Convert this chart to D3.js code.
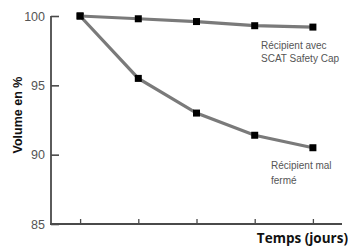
<!DOCTYPE html>
<html>
<head>
<meta charset="utf-8">
<script src="https://cdn.jsdelivr.net/npm/d3@7"></script>
<style>
  body { margin: 0; background: #fff; }
  text { font-family: "Liberation Sans", Arial, sans-serif; }
</style>
</head>
<body>
<div id="chart"></div>
<script>
// data
let days = [0, 1, 2, 3, 4];
let safetyCap = [100, 99.8, 99.6, 99.3, 99.2];
let malFerme = [100, 95.5, 93, 91.4, 90.5];
let yTicks = [85, 90, 95, 100];

let width = 348, height = 248;

let svg = d3.select("#chart")
    .append("svg")
    .attr("width", width)
    .attr("height", height);

let x = d3.scaleLinear().domain([-0.5, 4.5]).range([51, 342]);
let y = d3.scaleLinear().domain([85, 100]).range([224, 16]);

let axisColor = "#4a4a4a";

// y axis, ticks pointing inward
let yAxis = svg.append("g")
    .attr("transform", "translate(51,0)")
    .call(d3.axisRight(y).tickValues(yTicks).tickSize(8).tickFormat(d3.format("d")));
yAxis.select(".domain").remove();
yAxis.selectAll("line").attr("stroke", axisColor).attr("stroke-width", 1.6);
yAxis.selectAll("text")
    .attr("x", -6)
    .style("text-anchor", "end")
    .attr("fill", "#555")
    .style("font-size", "12.5px");

// x axis, small ticks pointing up
let xAxis = svg.append("g")
    .attr("transform", "translate(0,224)")
    .call(d3.axisTop(x).tickValues(days).tickSize(5).tickFormat(""));
xAxis.select(".domain").remove();
xAxis.selectAll("line").attr("stroke", axisColor).attr("stroke-width", 1.3);

svg.append("line")
    .attr("x1", 51).attr("x2", 51)
    .attr("y1", y(100)).attr("y2", 224)
    .attr("stroke", axisColor).attr("stroke-width", 1.8);
svg.append("line")
    .attr("x1", 50).attr("x2", 342)
    .attr("y1", 224).attr("y2", 224)
    .attr("stroke", axisColor).attr("stroke-width", 1.8);

let line = d3.line()
    .x(function(d, i) { return x(days[i]); })
    .y(function(d) { return y(d); });

[malFerme, safetyCap].forEach(function(series) {
    svg.append("path")
        .datum(series)
        .attr("d", line)
        .attr("fill", "none")
        .attr("stroke", "#7a7a7a")
        .attr("stroke-width", 3.2);

    svg.selectAll(null)
        .data(series)
        .enter().append("rect")
        .attr("x", function(d, i) { return x(days[i]) - 3.5; })
        .attr("y", function(d) { return y(d) - 3.5; })
        .attr("width", 7)
        .attr("height", 7)
        .attr("fill", "#000");
});

// annotations
let note = svg.append("g")
    .style("font-family", "'Open Sans', sans-serif")
    .style("font-size", "10px")
    .attr("fill", "#555");
note.append("text").attr("x", 261).attr("y", 49).text("Récipient avec");
note.append("text").attr("x", 261).attr("y", 62).text("SCAT Safety Cap");
note.append("text").attr("x", 271).attr("y", 169).text("Récipient mal");
note.append("text").attr("x", 271).attr("y", 184).text("fermé");

svg.append("text")
    .attr("transform", "translate(22,115) rotate(-90)")
    .style("text-anchor", "middle")
    .style("font-weight", "bold")
    .style("font-size", "12.5px")
    .attr("fill", "#111")
    .text("Volume en %");

svg.append("text")
    .attr("x", 348)
    .attr("y", 243)
    .style("text-anchor", "end")
    .style("font-family", "'Open Sans', sans-serif")
    .style("font-weight", "bold")
    .style("font-size", "13.5px")
    .attr("fill", "#111")
    .text("Temps (jours)");
</script>
</body>
</html>
